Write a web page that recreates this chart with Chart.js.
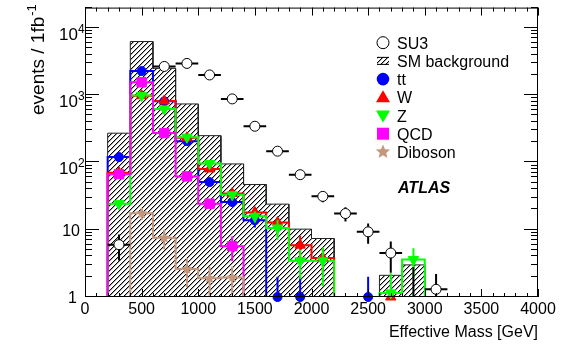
<!DOCTYPE html>
<html><head><meta charset="utf-8">
<script src="https://cdn.jsdelivr.net/npm/chart.js@4/dist/chart.umd.min.js"></script>
<style>html,body{margin:0;padding:0;background:#fff;}canvas{display:block;}</style>
</head><body>
<canvas id="c" width="567" height="351"></canvas>
<script>
// ---------- data ----------
const binEdges   = [200,400,600,800,1000,1200,1400,1600,1800,2000,2200,2400,2600,2800,3000];
const binCenters = [300,500,700,900,1100,1300,1500,1700,1900,2100,2300,2500,2700,2900];

const smBackground = [272, 6260, 2500, 740, 250, 95, 47, 24, 10.2, 7.4, 0, 0, 2.1, 3.0];

const ttbar     = [120, 2280, 810, 207, 51, 25.8, 13.8, 0, 0, null, null, 0, null, null];
const ttbarErr  = [8, 100, 40, 15, 5, 3, 3, 2, 2, 0, 0, 2, 0, 0];

const wjets     = [70, 980, 820, 232, 80, 34.4, 18, 12.8, 5.9, 3.8, null, null, 0, null];
const wjetsErr  = [5, 30, 30, 12, 6, 3, 2.5, 2, 2.2, 1.5, 0, 0, 0, 0];

const zjets     = [24.4, 985, 624, 237, 96, 33, 15.8, 10.6, 3.45, 3.45, null, null, 1.15, 3.6];
const zjetsErr  = [3, 30, 25, 12, 6, 4, 3, 3.5, 1.6, 2.0, 0, 0, 1.1, 1.7];

const qcd       = [67, 1550, 273, 62, 24.4, 5.7, null, null, null, null, null, null, null, null];
const qcdErr    = [4, 40, 15, 6, 3, 2.3, 0, 0, 0, 0, 0, 0, 0, 0];

const diboson    = [null, 17.5, 7.6, 2.6, 1.9, 1.95, null, null, null, null, null, null, null, null];
const dibosonErr = [0, 3.5, 2.5, 1.2, 0.9, 0.9, 0, 0, 0, 0, 0, 0, 0, 0];

const su3Mass   = [300, 700, 900, 1100, 1300, 1500, 1700, 1900, 2100, 2300, 2500, 2700, 2900, 3100];
const su3Events = [6.0, 2670, 2960, 1995, 879, 345, 147, 65.7, 31.3, 17.4, 9.3, 4.5, 0.6, 1.3];
const su3Err    = [2.5, 52, 54, 45, 30, 18.6, 12, 8, 5.6, 4.2, 3.1, 2.2, 2.2, 0.9];

const xTickLabels = ['0','500','1000','1500','2000','2500','3000','3500','4000'];
const yTickValues = [1, 10, 100, 1000, 10000];
const yTickBase   = ['1', '10', '10', '10', '10'];
const yTickExp    = ['', '', '2', '3', '4'];

const legendLabels = ['SU3', 'SM background', 'tt', 'W', 'Z', 'QCD', 'Diboson'];

// ---------- styling ----------
const COL = {tt:'#0000ff', w:'#ff0000', z:'#00ff00', qcd:'#ff00ff', dib:'#c4977c', sm:'#222222'};
const FLOOR = 1; // bottom of the log axis
const FONT = '"Liberation Sans", Arial, Helvetica, sans-serif';

const canvas = document.getElementById('c');
const ctx0 = canvas.getContext('2d');

function hatchPattern(){
  const s = 5;
  const c = document.createElement('canvas'); c.width = c.height = s;
  const g = c.getContext('2d'); g.fillStyle = '#000';
  for (let i = 0; i < s; i++) g.fillRect(i, s - 1 - i, 1, 1);
  g.fillStyle = 'rgba(0,0,0,0.35)';
  for (let i = 0; i < s; i++) g.fillRect(i, (s - i) % s, 1, 1);
  return ctx0.createPattern(c, 'repeat');
}
const HATCH = hatchPattern();

// histogram outline built from bin arrays
function histSteps(vals, from, to){
  const pts = [];
  if (from != null) pts.push({x: from, y: FLOOR});
  pts.push({x: binEdges[0], y: FLOOR});
  vals.forEach((v, i) => {
    const y = (v != null && v > FLOOR) ? v : FLOOR;
    pts.push({x: binEdges[i], y});
    pts.push({x: binEdges[i + 1], y});
  });
  pts.push({x: binEdges[binEdges.length - 1], y: FLOOR});
  if (to != null) pts.push({x: to, y: FLOOR});
  return pts;
}
function markers(vals){
  const pts = [];
  vals.forEach((v, i) => { if (v != null) pts.push({x: binCenters[i], y: v > FLOOR ? v : FLOOR, v}); });
  return pts;
}
function errs(vals, e){ const out = []; vals.forEach((v, i) => { if (v != null) out.push(e[i]); }); return out; }

function histDS(vals, color, order, from, to){
  return {type:'scatter', data: histSteps(vals, from, to), showLine:true, borderColor:color, borderWidth:2,
          pointRadius:0, fill:false, order, tension:0};
}
function markDS(vals, e, color, style, radius, order, extra){
  return Object.assign({type:'scatter', data: markers(vals), errorBars: errs(vals, e), errColor: color,
          pointStyle: style, pointRadius: radius, pointBackgroundColor: color, pointBorderColor: color,
          pointBorderWidth: 1, showLine:false, order, clip: false}, extra || {});
}

const datasets = [
  {type:'scatter', data: histSteps(smBackground, 0, 4000), showLine:true, borderColor: COL.sm, borderWidth:1,
   backgroundColor: HATCH, fill: 'start', pointRadius:0, order: 100, tension:0},
  histDS(ttbar, COL.tt, 90),
  histDS(wjets, COL.w, 89),
  histDS(zjets, COL.z, 88),
  histDS(qcd, COL.qcd, 87),
  histDS(diboson, COL.dib, 86, 0, 4000),
  markDS(ttbar, ttbarErr, COL.tt, 'circle', 4.5, 20),
  markDS(wjets, wjetsErr, COL.w, 'triangle', 6, 19),
  markDS(zjets, zjetsErr, COL.z, 'triangle', 6, 18, {rotation: 180}),
  markDS(qcd, qcdErr, COL.qcd, 'rect', 6.6, 17),
  markDS(diboson, dibosonErr, COL.dib, 'star', 6, 16, {starMarker: true, pointBorderWidth: 0}),
  {type:'scatter', data: su3Mass.map((m, i) => ({x: m, y: su3Events[i], v: su3Events[i]})), errorBars: su3Err, errColor:'#000',
   xErr: 100, pointStyle:'circle', pointRadius:5, pointBackgroundColor:'#fff', pointBorderColor:'#000',
   pointBorderWidth:1, showLine:false, order: 1}
];

function drawStar(ctx, x, y, r, color){
  ctx.beginPath();
  for (let k = 0; k < 10; k++){
    const rr = k % 2 ? r * 0.45 : r;
    const a = -Math.PI / 2 + k * Math.PI / 5;
    ctx.lineTo(x + rr * Math.cos(a), y + rr * Math.sin(a));
  }
  ctx.closePath(); ctx.fillStyle = color; ctx.fill();
}

const errorBarPlugin = {
  id: 'errbars',
  beforeDatasetDraw(chart, args){
    const ds = chart.data.datasets[args.index];
    if (!ds.errorBars) return;
    const xs = chart.scales.x, ys = chart.scales.y, a = chart.chartArea, ctx = chart.ctx;
    ctx.save();
    ctx.beginPath(); ctx.rect(a.left, a.top - 1, a.right - a.left, a.bottom - a.top + 1); ctx.clip();
    ctx.strokeStyle = ds.errColor; ctx.lineWidth = 2;
    ds.data.forEach((p, i) => {
      const e = ds.errorBars[i];
      const x = xs.getPixelForValue(p.x);
      const yv = ys.getPixelForValue(p.y);
      ctx.beginPath();
      if (e > 0){
        const lo = Math.max(p.v - e, 0.01);
        ctx.moveTo(x, ys.getPixelForValue(lo));
        ctx.lineTo(x, ys.getPixelForValue(p.v + e));
      }
      if (ds.xErr){
        ctx.moveTo(xs.getPixelForValue(p.x - ds.xErr), yv);
        ctx.lineTo(xs.getPixelForValue(p.x + ds.xErr), yv);
      }
      ctx.stroke();
    });
    ctx.restore();
  },
  afterDatasetDraw(chart, args){
    const ds = chart.data.datasets[args.index];
    if (!ds.starMarker) return;
    const ctx = chart.ctx;
    ctx.save();
    args.meta.data.forEach(pt => drawStar(ctx, pt.x, pt.y, 6, ds.errColor));
    ctx.restore();
  }
};

const framePlugin = {
  id: 'frame',
  afterDraw(chart){
    const ctx = chart.ctx, a = chart.chartArea, xs = chart.scales.x, ys = chart.scales.y;
    ctx.save();
    ctx.strokeStyle = '#000'; ctx.lineWidth = 1;
    ctx.strokeRect(a.left + 0.5, a.top + 0.5, a.right - a.left - 1, a.bottom - a.top - 1);
    ctx.beginPath();
    for (let v = 0; v <= 4000; v += 100){
      const x = Math.round(xs.getPixelForValue(v)) + 0.5;
      const len = v % 500 === 0 ? 8 : 4;
      ctx.moveTo(x, a.bottom); ctx.lineTo(x, a.bottom - len);
      ctx.moveTo(x, a.top); ctx.lineTo(x, a.top + len);
    }
    for (let d = 1; d <= 10000; d *= 10){
      for (let m = 1; m <= 9; m++){
        const v = m * d; if (v > ys.max) break;
        const y = Math.round(ys.getPixelForValue(v)) - 0.5;
        const len = m === 1 ? 14 : 7;
        ctx.moveTo(a.left, y); ctx.lineTo(a.left + len, y);
        ctx.moveTo(a.right, y); ctx.lineTo(a.right - len, y);
      }
    }
    ctx.stroke();

    // x tick labels
    ctx.fillStyle = '#000';
    ctx.font = '16px ' + FONT; ctx.textAlign = 'center'; ctx.textBaseline = 'top';
    xTickLabels.forEach(t => ctx.fillText(t, xs.getPixelForValue(+t), a.bottom + 5));
    // y tick labels
    ctx.textBaseline = 'alphabetic';
    yTickValues.forEach((v, i) => {
      const y = ys.getPixelForValue(v);
      if (yTickExp[i]){
        ctx.font = '17px ' + FONT; ctx.textAlign = 'right';
        ctx.fillText(yTickBase[i], 78, y + 12);
        ctx.font = '12px ' + FONT; ctx.textAlign = 'left';
        ctx.fillText(yTickExp[i], 78, y + 5);
      } else {
        ctx.font = '16px ' + FONT; ctx.textAlign = 'right';
        ctx.fillText(yTickBase[i], yTickBase[i] === '1' ? 77 : 80, y + 6);
      }
    });
    // axis titles
    ctx.font = '16px ' + FONT; ctx.textAlign = 'right';
    ctx.fillText('Effective Mass [GeV]', a.right, 337);
    ctx.save();
    ctx.translate(44, 115); ctx.rotate(-Math.PI / 2);
    ctx.textAlign = 'left'; ctx.font = '19px ' + FONT;
    const main = 'events / 1fb';
    ctx.fillText(main, 0, 0);
    const w = ctx.measureText(main).width;
    ctx.font = '13px ' + FONT;
    ctx.fillText('-1', w + 1, -8);
    ctx.restore();

    // legend
    const lx = 383, tx = 397;
    ctx.font = '16px ' + FONT; ctx.textAlign = 'left';
    legendLabels.forEach((lab, i) => {
      const cy = 42.7 + i * 18.2;
      ctx.fillStyle = '#000';
      ctx.fillText(lab, tx, cy + 6);
      ctx.beginPath();
      switch(i){
        case 0: ctx.arc(lx, cy, 6, 0, 2*Math.PI); ctx.fillStyle = '#fff'; ctx.fill(); ctx.lineWidth = 1; ctx.strokeStyle = '#000'; ctx.stroke(); break;
        case 1:
          ctx.fillStyle = HATCH; ctx.fillRect(lx - 6, cy - 4, 12, 8);
          ctx.lineWidth = 1; ctx.strokeStyle = '#000';
          ctx.beginPath(); ctx.moveTo(lx - 6, cy - 3.5); ctx.lineTo(lx + 6, cy - 3.5);
          ctx.moveTo(lx - 6, cy + 3.5); ctx.lineTo(lx + 6, cy + 3.5); ctx.stroke(); break;
        case 2: ctx.arc(lx, cy, 6.3, 0, 2*Math.PI); ctx.fillStyle = COL.tt; ctx.fill(); break;
        case 3: ctx.moveTo(lx, cy - 7); ctx.lineTo(lx + 7, cy + 5); ctx.lineTo(lx - 7, cy + 5); ctx.closePath(); ctx.fillStyle = COL.w; ctx.fill(); break;
        case 4: ctx.moveTo(lx, cy + 7); ctx.lineTo(lx + 7, cy - 5); ctx.lineTo(lx - 7, cy - 5); ctx.closePath(); ctx.fillStyle = COL.z; ctx.fill(); break;
        case 5: ctx.fillStyle = COL.qcd; ctx.fillRect(lx - 6, cy - 6, 12, 12); break;
        case 6: drawStar(ctx, lx, cy, 7.5, COL.dib); break;
      }
    });
    ctx.fillStyle = '#000';
    ctx.font = 'italic bold 16px ' + FONT; ctx.textAlign = 'left';
    ctx.fillText('ATLAS', 398, 192.5);
    ctx.restore();
  }
};

new Chart(canvas, {
  type: 'scatter',
  data: { datasets },
  options: {
    responsive: false, animation: false, devicePixelRatio: 1,
    layout: { padding: {left: 85, top: 7, right: 29, bottom: 54} },
    plugins: { legend: {display: false}, tooltip: {enabled: false} },
    scales: {
      x: { type: 'linear', min: 0, max: 4000, display: false },
      y: { type: 'logarithmic', min: 1, max: 20000, display: false }
    }
  },
  plugins: [errorBarPlugin, framePlugin]
});
</script>
</body></html>
